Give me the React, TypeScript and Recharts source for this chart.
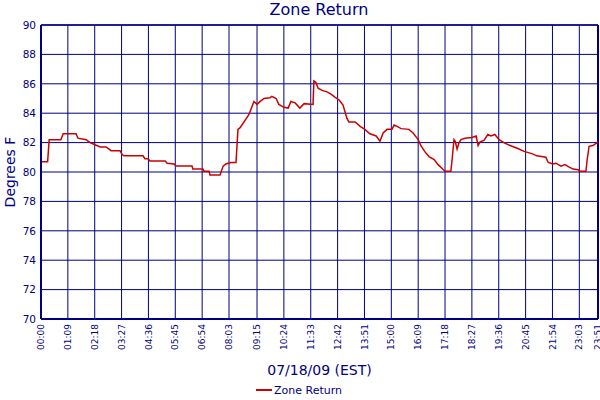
import {
  LineChart,
  Line,
  XAxis,
  YAxis,
  CartesianGrid,
  Legend,
  ReferenceLine,
} from 'recharts';

const NAVY = '#000080';
const RED = '#cc0000';
const FONT = '"DejaVu Sans", Verdana, sans-serif';

// minutes after midnight
const minutes = [
  0, 17, 21, 51, 57, 90, 95, 116, 126, 139, 152, 167, 175, 180, 203, 208, 213, 262, 267, 275,
  280, 319, 324, 342, 347, 388, 390, 416, 419, 432, 434, 460, 468, 475, 488, 501, 506, 511, 534,
  547, 555, 563, 573, 588, 593, 604, 611, 624, 635, 642, 653, 665, 676, 699, 701, 706, 712, 722,
  735, 745, 755, 766, 776, 786, 791, 807, 820, 832, 845, 861, 871, 879, 889, 902, 907, 915, 925,
  945, 956, 969, 976, 987, 997, 1010, 1020, 1030, 1038, 1053, 1056, 1061, 1064, 1069, 1074, 1079,
  1089, 1107, 1118, 1123, 1128, 1138, 1148, 1156, 1166, 1177, 1189, 1205, 1225, 1241, 1261, 1274,
  1297, 1303, 1315, 1323, 1336, 1346, 1356, 1367, 1380, 1385, 1400, 1403, 1408, 1418, 1426, 1431,
];

const zoneReturn = [
  80.7, 80.7, 82.2, 82.2, 82.6, 82.6, 82.3, 82.2, 82.0, 81.85, 81.7, 81.7, 81.55, 81.45, 81.45,
  81.2, 81.1, 81.1, 80.9, 80.9, 80.75, 80.75, 80.6, 80.55, 80.4, 80.4, 80.2, 80.2, 80.05, 80.05,
  79.8, 79.8, 80.4, 80.55, 80.65, 80.65, 82.9, 83.0, 83.9, 84.8, 84.6, 84.8, 85.0, 85.05, 85.15,
  85.0, 84.6, 84.4, 84.35, 84.8, 84.7, 84.35, 84.65, 84.6, 86.2, 86.1, 85.7, 85.55, 85.45, 85.3,
  85.1, 84.9, 84.55, 83.65, 83.4, 83.4, 83.1, 82.9, 82.6, 82.45, 82.1, 82.65, 82.9, 82.9, 83.2,
  83.1, 82.95, 82.9, 82.65, 82.2, 81.8, 81.35, 81.05, 80.85, 80.5, 80.25, 80.05, 80.05, 80.8,
  82.2, 82.1, 81.55, 82.0, 82.2, 82.3, 82.35, 82.45, 81.8, 82.05, 82.15, 82.55, 82.45, 82.55,
  82.2, 82.0, 81.8, 81.6, 81.4, 81.25, 81.1, 81.0, 80.65, 80.55, 80.6, 80.4, 80.5, 80.35, 80.2,
  80.15, 80.05, 80.05, 80.8, 81.75, 81.8, 81.95, 82.05,
];

const xTicks = [
  0, 69, 138, 207, 276, 345, 414, 483, 555, 624, 693, 762, 831, 900, 969, 1038, 1107, 1176, 1245,
  1314, 1383, 1431,
];
const yTicks = [70, 72, 74, 76, 78, 80, 82, 84, 86, 88, 90];

const data = minutes.map((m, i) => ({ t: m, value: zoneReturn[i] }));

const hhmm = (m: number) =>
  `${String(Math.floor(m / 60)).padStart(2, '0')}:${String(m % 60).padStart(2, '0')}`;

const XTick = ({ x, y, payload }: any) => (
  <text
    x={x}
    y={y}
    dx={-5}
    dy="0.35em"
    transform={`rotate(-90 ${x} ${y})`}
    textAnchor="end"
    fill={NAVY}
    fontSize={9}
    fontFamily={FONT}
  >
    {hhmm(payload.value)}
  </text>
);

const LegendContent = () => (
  <div
    style={{
      display: 'flex',
      justifyContent: 'center',
      alignItems: 'center',
      fontFamily: FONT,
      fontSize: 11,
      color: NAVY,
      height: 20,
    }}
  >
    <svg width={16} height={4} style={{ marginRight: 2 }}>
      <line x1={0} y1={2} x2={16} y2={2} stroke={RED} strokeWidth={2} />
    </svg>
    Zone Return
  </div>
);

export default function App() {
  return (
    <div style={{ position: 'absolute', left: 0, top: 0, width: 600, height: 400, background: '#fff' }}>
      <div
        style={{
          position: 'absolute',
          left: 219,
          top: 0,
          width: 200,
          textAlign: 'center',
          fontFamily: FONT,
          fontSize: 16,
          lineHeight: '20px',
          color: NAVY,
        }}
      >
        Zone Return
      </div>
      <LineChart width={600} height={400} data={data} margin={{ top: 25, right: 2, bottom: 0, left: 0 }}>
        <CartesianGrid stroke={NAVY} strokeWidth={1} vertical horizontal />
        <XAxis
          dataKey="t"
          type="number"
          domain={[0, 1431]}
          ticks={xTicks}
          interval={0}
          height={61}
          tickSize={0}
          tickMargin={0}
          tickLine={false}
          axisLine={{ stroke: NAVY, strokeWidth: 2 }}
          tick={<XTick />}
          label={{
            value: '07/18/09 (EST)',
            position: 'insideBottom',
            offset: 5,
            style: { fill: NAVY, fontSize: 14, fontFamily: FONT },
          }}
        />
        <YAxis
          domain={[70, 90]}
          ticks={yTicks}
          interval={0}
          width={41}
          tickSize={0}
          tickMargin={5}
          tickLine={false}
          axisLine={{ stroke: NAVY, strokeWidth: 2 }}
          tick={{ fill: NAVY, fontSize: 10.5, fontFamily: FONT }}
          label={{
            value: 'Degrees F',
            angle: -90,
            position: 'insideLeft',
            offset: 10,
            style: { fill: NAVY, fontSize: 14, fontFamily: FONT, textAnchor: 'middle' },
          }}
        />
        <ReferenceLine x={1431} stroke={NAVY} strokeWidth={2} />
        <ReferenceLine y={90} stroke={NAVY} strokeWidth={1.5} />
        <Legend verticalAlign="bottom" height={20} content={<LegendContent />} />
        <Line
          type="linear"
          dataKey="value"
          name="Zone Return"
          stroke={RED}
          strokeWidth={1.5}
          dot={false}
          isAnimationActive={false}
        />
      </LineChart>
    </div>
  );
}
